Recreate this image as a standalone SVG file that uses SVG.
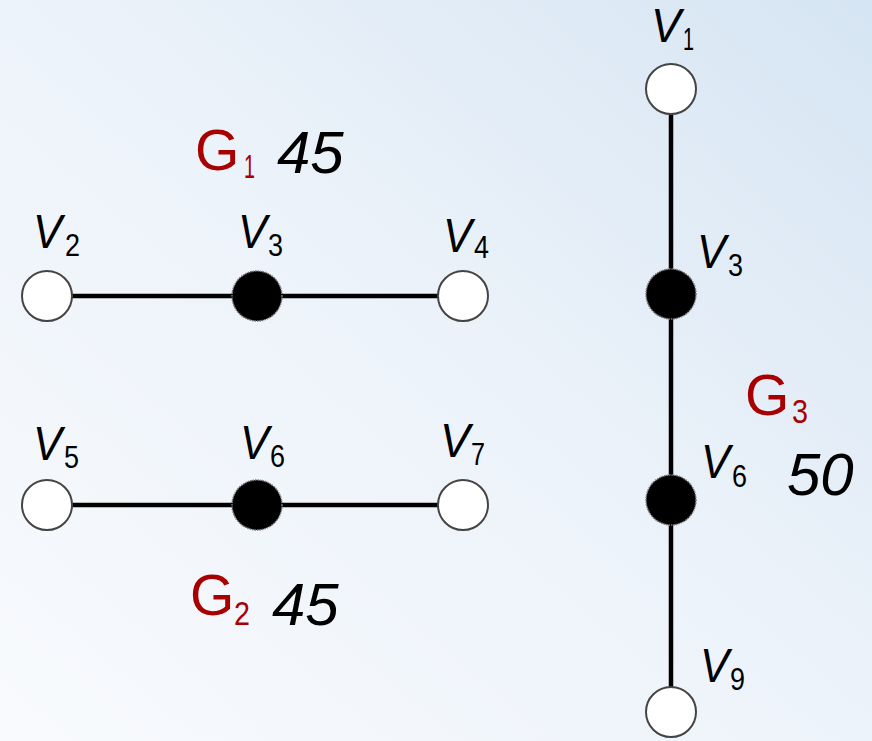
<svg xmlns="http://www.w3.org/2000/svg" width="872" height="741" viewBox="0 0 872 741">
<defs>
<linearGradient id="bg" x1="0" y1="1" x2="1" y2="0">
<stop offset="0" stop-color="#f8fafd"/>
<stop offset="0.5" stop-color="#edf3fa"/>
<stop offset="1" stop-color="#d6e5f3"/>
</linearGradient>
<style>
.w{fill:#fff;stroke:#444;stroke-width:2}
.b{fill:#000;stroke:#777;stroke-width:1.5;stroke-dasharray:1.5 1}
.e{stroke:#000;stroke-width:4.5;fill:none}
.v{font-family:"Liberation Sans",Arial,sans-serif;font-style:italic;font-size:48px;fill:#000}
.s{font-family:"Liberation Sans",Arial,sans-serif;font-size:32px;fill:#000}
.g{font-family:"Liberation Sans",Arial,sans-serif;font-size:57px;fill:#a80000}
.gs{font-family:"Liberation Sans",Arial,sans-serif;font-size:33px;fill:#a80000}
.n{font-family:"Liberation Sans",Arial,sans-serif;font-style:italic;font-size:60px;fill:#000}
</style>
</defs>
<rect width="872" height="741" fill="url(#bg)"/>
<g id="connectors">
<line class="e" x1="47" y1="296" x2="463" y2="296"/>
<line class="e" x1="47" y1="505" x2="463" y2="505"/>
<line class="e" x1="671" y1="89" x2="671" y2="712"/>
</g>
<g id="G1-label"><text class="g" x="195" y="170">G</text><text class="gs" x="244" y="178" textLength="11" lengthAdjust="spacingAndGlyphs">1</text><text class="n" x="277" y="173">45</text></g>
<g id="G2-label"><text class="g" x="190" y="615">G</text><text class="gs" x="234" y="625" textLength="16" lengthAdjust="spacingAndGlyphs">2</text><text class="n" x="272" y="625">45</text></g>
<g id="G3-label"><text class="g" x="745" y="415">G</text><text class="gs" x="792" y="423" textLength="16" lengthAdjust="spacingAndGlyphs">3</text><text class="n" x="787" y="495">50</text></g>
<g id="V2"><circle class="w" cx="47" cy="296" r="25"/><text class="v" x="33" y="248" textLength="29" lengthAdjust="spacingAndGlyphs">V</text><text class="s" x="65" y="256" textLength="15" lengthAdjust="spacingAndGlyphs">2</text></g>
<g id="V3a"><circle class="b" cx="257" cy="296" r="25"/><text class="v" x="238" y="248" textLength="29" lengthAdjust="spacingAndGlyphs">V</text><text class="s" x="268" y="256" textLength="15" lengthAdjust="spacingAndGlyphs">3</text></g>
<g id="V4"><circle class="w" cx="463" cy="296" r="25"/><text class="v" x="443" y="252" textLength="29" lengthAdjust="spacingAndGlyphs">V</text><text class="s" x="474" y="258" textLength="15" lengthAdjust="spacingAndGlyphs">4</text></g>
<g id="V5"><circle class="w" cx="47" cy="505" r="25"/><text class="v" x="33" y="460" textLength="29" lengthAdjust="spacingAndGlyphs">V</text><text class="s" x="64" y="468" textLength="15" lengthAdjust="spacingAndGlyphs">5</text></g>
<g id="V6a"><circle class="b" cx="257" cy="505" r="25"/><text class="v" x="240" y="459" textLength="29" lengthAdjust="spacingAndGlyphs">V</text><text class="s" x="270" y="467" textLength="15" lengthAdjust="spacingAndGlyphs">6</text></g>
<g id="V7"><circle class="w" cx="463" cy="505" r="25"/><text class="v" x="440" y="457" textLength="30" lengthAdjust="spacingAndGlyphs">V</text><text class="s" x="471" y="465" textLength="14" lengthAdjust="spacingAndGlyphs">7</text></g>
<g id="V1"><circle class="w" cx="671" cy="89" r="25"/><text class="v" x="651" y="42" textLength="30" lengthAdjust="spacingAndGlyphs">V</text><text class="s" x="683" y="50" textLength="11" lengthAdjust="spacingAndGlyphs">1</text></g>
<g id="V3b"><circle class="b" cx="671" cy="294" r="25"/><text class="v" x="697" y="268" textLength="29" lengthAdjust="spacingAndGlyphs">V</text><text class="s" x="728" y="276" textLength="15" lengthAdjust="spacingAndGlyphs">3</text></g>
<g id="V6b"><circle class="b" cx="671" cy="500" r="25"/><text class="v" x="701" y="478" textLength="29" lengthAdjust="spacingAndGlyphs">V</text><text class="s" x="732" y="487" textLength="15" lengthAdjust="spacingAndGlyphs">6</text></g>
<g id="V9"><circle class="w" cx="671" cy="712" r="25"/><text class="v" x="700" y="682" textLength="29" lengthAdjust="spacingAndGlyphs">V</text><text class="s" x="730" y="690" textLength="15" lengthAdjust="spacingAndGlyphs">9</text></g>
</svg>
